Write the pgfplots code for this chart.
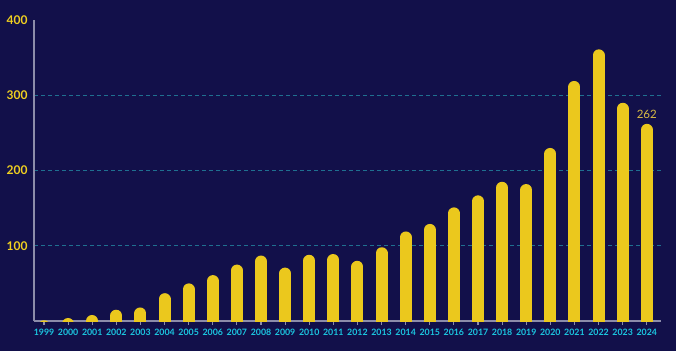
\documentclass[border=0pt]{standalone}
\usepackage{pgfplots}
\pgfplotsset{compat=1.18}
\usepackage{pgfplotstable}
\usepackage{fontspec}
\setmainfont{Lato}
\definecolor{bgc}{HTML}{12104A}
\definecolor{barc}{HTML}{EBC81D}
\definecolor{xlab}{HTML}{1BC6E0}
\definecolor{ylab}{HTML}{F0D020}
\definecolor{gridc}{HTML}{1F7090}
\definecolor{axc}{HTML}{8C8CAA}
\definecolor{valc}{HTML}{D9BB45}
\pgfplotstableread{
year value
1999 1
2000 4
2001 8
2002 15
2003 18
2004 37
2005 50
2006 61
2007 75
2008 87
2009 71
2010 88
2011 89
2012 80
2013 98
2014 119
2015 129
2016 151
2017 167
2018 185
2019 182
2020 230
2021 319
2022 361
2023 290
2024 262
}\datatable
\begin{document}
\begin{tikzpicture}
\fill[bgc] (-34pt,-30pt) rectangle (642pt,321pt);
\begin{axis}[
  at={(0,0)}, anchor=south west,
  scale only axis,
  width=627pt, height=301pt,
  xmin=1998.585, xmax=2024.59,
  ymin=0, ymax=400,
  axis x line*=bottom, axis y line*=left,
  axis line style={draw=axc, line width=1.4pt, -},
  xtick=data,
  ytick={100,200,300},
  extra y ticks={400},
  extra y tick style={grid=none},
  ymajorgrids,
  grid style={draw=gridc, line width=0.9pt, dash pattern=on 4pt off 3pt},
  tick align=outside,
  major tick length=4pt,
  xtick style={draw=axc, line width=1.2pt},
  ytick style={draw=none},
  /pgf/number format/assume math mode=true,
  /pgf/number format/1000 sep={},
  xticklabel style={font=\fontsize{8.8}{10}\selectfont\bfseries, text=xlab, yshift=-1pt},
  yticklabel style={font=\fontsize{12}{13}\selectfont\bfseries, text=ylab, xshift=1pt},
  clip=true,
]
\addplot[ycomb, draw=barc, line width=12pt, line cap=round, mark=none, yshift=-6pt] table[x=year, y=value] {\datatable};
\addplot[only marks, mark=none, nodes near coords,
  every node near coord/.append style={anchor=south, inner sep=0pt, yshift=5pt, text=valc, font=\fontsize{11.5}{12}\selectfont}]
  coordinates {(2024,262)};
\end{axis}
\end{tikzpicture}
\end{document}
